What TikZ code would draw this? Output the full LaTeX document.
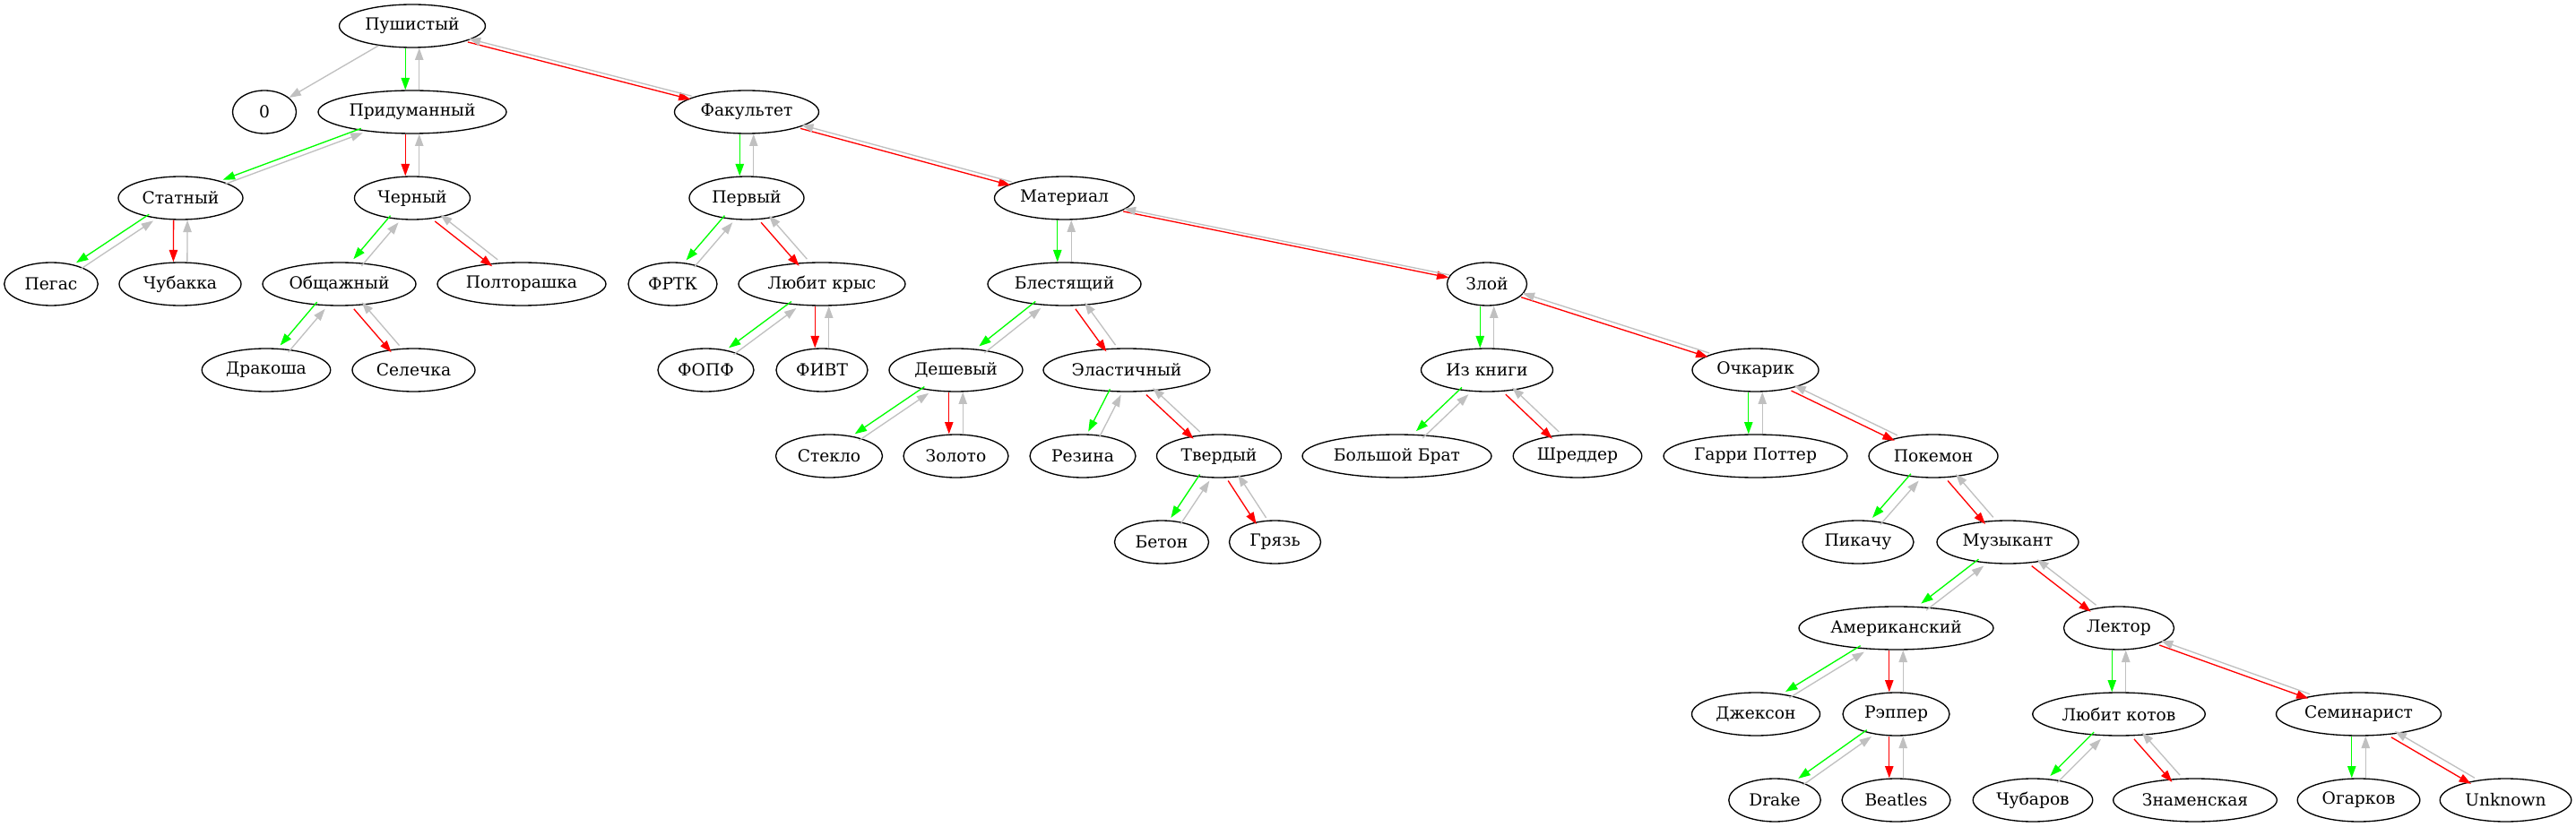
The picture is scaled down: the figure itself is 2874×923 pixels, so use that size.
\documentclass[tikz,border=0pt]{standalone}
\usepackage{fontspec}
\setmainfont{DejaVu Serif}
\usetikzlibrary{shapes.geometric,arrows.meta,calc}
\definecolor{edgegray}{RGB}{192,192,192}
\newcommand\hoff{5.8}
\newcommand\pairE[3]{%
  \pgfpointdiff{\pgfpointanchor{#1}{center}}{\pgfpointanchor{#2}{center}}%
  \pgfgetlastxy\pEdx\pEdy
  \pgfmathsetmacro\pEang{atan2(\pEdy,\pEdx)}%
  \pgfmathsetmacro\pEsx{\hoff*abs(sin(\pEang))*sin(\pEang)}%
  \pgfmathsetmacro\pEsy{-\hoff*abs(sin(\pEang))*cos(\pEang)}%
  \draw[edge,#3,transform canvas={shift={(\pEsx pt,\pEsy pt)}}] (#1) -- (#2);%
}
\newcommand\bi[3]{\pairE{#1}{#2}{#3}\pairE{#2}{#1}{edgegray}}
\begin{document}
\begin{tikzpicture}[x=0.75pt,y=-0.75pt,
  nd/.style={ellipse,draw=black,line width=1pt,minimum height=36pt,inner sep=0pt,
     font=\fontsize{14}{16}\selectfont},
  wd/.style={minimum width=#1*0.75pt},
  edge/.style={line width=1pt,-{Triangle[length=10pt,width=7pt]}}]
\useasboundingbox (0,0) rectangle (2874,923);
% row 1
\node[nd,wd=163] (pu) at (460,29) {Пушистый};
% row 2
\node[nd,wd=71] (zero) at (295,125) {0};
\node[nd,wd=210] (prid) at (460,125) {Придуманный};
\node[nd,wd=161] (fak) at (833,125) {Факультет};
% row 3
\node[nd,wd=139] (stat) at (201.5,221) {Статный};
\node[nd,wd=129] (cher) at (460,221) {Черный};
\node[nd,wd=128] (perv) at (833,221) {Первый};
\node[nd,wd=156] (mat) at (1187.5,221) {Материал};
% row 4
\node[nd,wd=104.5] (peg) at (57,317) {Пегас};
\node[nd,wd=136] (chub) at (201,317) {Чубакка};
\node[nd,wd=171] (obsh) at (378.5,317) {Общажный};
\node[nd,wd=188] (polt) at (582,317) {Полторашка};
\node[nd,wd=99] (frtk) at (750.5,317) {ФРТК};
\node[nd,wd=186] (lkr) at (917,317) {Любит крыс};
\node[nd,wd=171] (blest) at (1187.5,317) {Блестящий};
\node[nd,wd=89] (zloy) at (1659,317) {Злой};
% row 5
\node[nd,wd=143.5] (drak) at (297,413) {Дракоша};
\node[nd,wd=137] (sel) at (461.5,413) {Селечка};
\node[nd,wd=107] (fopf) at (787.5,413) {ФОПФ};
\node[nd,wd=102] (fivt) at (917,413) {ФИВТ};
\node[nd,wd=149] (desh) at (1066.5,413) {Дешевый};
\node[nd,wd=186] (elast) at (1257,413) {Эластичный};
\node[nd,wd=147] (izkn) at (1659,413) {Из книги};
\node[nd,wd=141] (ochk) at (1958.5,413) {Очкарик};
% row 6
\node[nd,wd=119] (stek) at (925,509) {Стекло};
\node[nd,wd=117] (zol) at (1066.5,509) {Золото};
\node[nd,wd=118] (rez) at (1208,509) {Резина};
\node[nd,wd=139] (tver) at (1360,509) {Твердый};
\node[nd,wd=211] (bb) at (1558.5,509) {Большой Брат};
\node[nd,wd=143.5] (shred) at (1760,509) {Шреддер};
\node[nd,wd=205] (gp) at (1958.5,509) {Гарри Поттер};
\node[nd,wd=144] (pok) at (2157,509) {Покемон};
% row 7
\node[nd,wd=105] (beton) at (1296,605) {Бетон};
\node[nd,wd=102] (gryaz) at (1422.5,605) {Грязь};
\node[nd,wd=124] (pik) at (2073,605) {Пикачу};
\node[nd,wd=158] (muz) at (2240,605) {Музыкант};
% row 8
\node[nd,wd=217] (amer) at (2115.5,701) {Американский};
\node[nd,wd=123] (lekt) at (2364,701) {Лектор};
% row 9
\node[nd,wd=143] (dzh) at (1959,797) {Джексон};
\node[nd,wd=119] (rep) at (2115.5,797) {Рэппер};
\node[nd,wd=192.5] (lkot) at (2364,797) {Любит котов};
\node[nd,wd=184] (sem) at (2631.5,797) {Семинарист};
% row 10
\node[nd,wd=102.5] (drake) at (1980,893) {Drake};
\node[nd,wd=121] (beat) at (2115.5,893) {Beatles};
\node[nd,wd=133.5] (chubar) at (2268,893) {Чубаров};
\node[nd,wd=182.6] (znam) at (2449,893) {Знаменская};
\node[nd,wd=136.6] (ogar) at (2631.5,893) {Огарков};
\node[nd,wd=146.6] (unk) at (2795.5,893) {Unknown};
% edges
\draw[edge,edgegray] (pu) -- (zero);
\bi{pu}{prid}{green}
\bi{pu}{fak}{red}
\bi{prid}{stat}{green}
\bi{prid}{cher}{red}
\bi{stat}{peg}{green}
\bi{stat}{chub}{red}
\bi{cher}{obsh}{green}
\bi{cher}{polt}{red}
\bi{obsh}{drak}{green}
\bi{obsh}{sel}{red}
\bi{fak}{perv}{green}
\bi{fak}{mat}{red}
\bi{perv}{frtk}{green}
\bi{perv}{lkr}{red}
\bi{lkr}{fopf}{green}
\bi{lkr}{fivt}{red}
\bi{mat}{blest}{green}
\bi{mat}{zloy}{red}
\bi{blest}{desh}{green}
\bi{blest}{elast}{red}
\bi{desh}{stek}{green}
\bi{desh}{zol}{red}
\bi{elast}{rez}{green}
\bi{elast}{tver}{red}
\bi{tver}{beton}{green}
\bi{tver}{gryaz}{red}
\bi{zloy}{izkn}{green}
\bi{zloy}{ochk}{red}
\bi{izkn}{bb}{green}
\bi{izkn}{shred}{red}
\bi{ochk}{gp}{green}
\bi{ochk}{pok}{red}
\bi{pok}{pik}{green}
\bi{pok}{muz}{red}
\bi{muz}{amer}{green}
\bi{muz}{lekt}{red}
\bi{amer}{dzh}{green}
\bi{amer}{rep}{red}
\bi{rep}{drake}{green}
\bi{rep}{beat}{red}
\bi{lekt}{lkot}{green}
\bi{lekt}{sem}{red}
\bi{lkot}{chubar}{green}
\bi{lkot}{znam}{red}
\bi{sem}{ogar}{green}
\bi{sem}{unk}{red}
\end{tikzpicture}
\end{document}
